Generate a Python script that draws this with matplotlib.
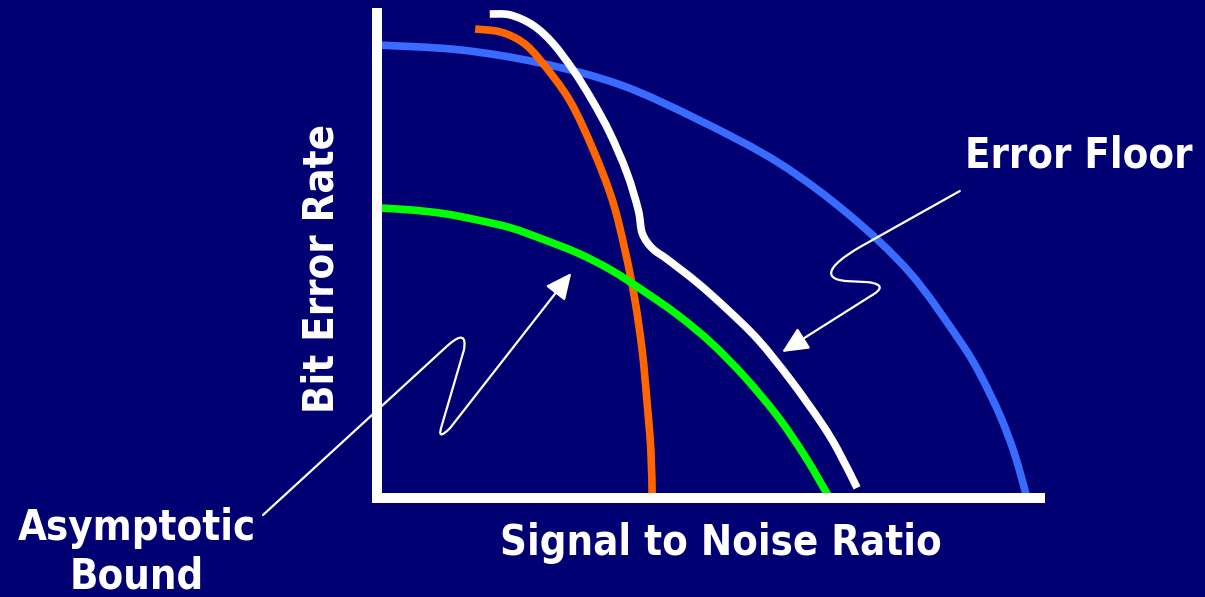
import matplotlib
matplotlib.use("Agg")
import matplotlib.pyplot as plt
from matplotlib.patches import FancyArrowPatch, PathPatch
from matplotlib.path import Path

# curve samples (SNR on x, BER on y, arbitrary units 0..10)
blue_x = [0.02, 1.25, 2.46, 3.67, 4.86, 6.06, 7.12, 8.04, 8.79, 9.10, 9.40, 9.62, 9.80]
blue_y = [9.34, 9.24, 8.97, 8.52, 7.79, 6.91, 5.84, 4.64, 3.24, 2.54, 1.69, 0.89, 0.02]

orange_x = [1.48, 1.86, 2.19, 2.46, 2.90, 3.26, 3.55, 3.74, 3.89, 4.00, 4.07, 4.13, 4.15]
orange_y = [9.67, 9.61, 9.40, 9.03, 8.21, 7.18, 6.14, 5.11, 4.08, 3.03, 2.02, 0.99, 0.02]

white_x = [1.70, 2.01, 2.35, 2.65, 2.96, 3.24, 3.51, 3.77, 3.94, 4.00, 4.15, 4.39, 4.84, 5.29, 5.75, 6.24, 6.70, 6.95, 7.24]
white_y = [9.98, 9.96, 9.75, 9.38, 8.82, 8.21, 7.53, 6.70, 5.94, 5.46, 5.15, 4.91, 4.43, 3.88, 3.26, 2.43, 1.55, 0.99, 0.21]

green_x = [0.02, 0.51, 1.03, 1.52, 2.02, 2.53, 3.03, 3.53, 4.04, 4.54, 5.04, 5.55, 6.05, 6.46, 6.80]
green_y = [5.98, 5.94, 5.86, 5.73, 5.57, 5.32, 5.05, 4.70, 4.25, 3.77, 3.20, 2.49, 1.67, 0.85, 0.06]

# squiggly pointers for the two callouts: straight runs joined by tight bends
M, L, Q, C = Path.MOVETO, Path.LINETO, Path.CURVE3, Path.CURVE4
floor_verts = [(8.79, 6.33), (7.29, 5.18), (6.76, 4.76), (6.71, 4.49), (7.13, 4.47),
               (7.41, 4.45), (7.74, 4.39), (7.44, 4.16), (6.11, 3.01)]
floor_codes = [M, L, C, C, C, L, Q, Q, L]
bound_verts = [(-1.72, -0.35), (1.07, 3.15), (1.37, 3.51), (1.31, 3.05), (0.98, 1.51),
               (0.89, 1.15), (1.10, 1.44), (2.93, 4.64)]
bound_codes = [M, L, Q, Q, L, Q, Q, L]

BG = '#000073'


def smooth_path(pts):
    """Catmull-Rom through the points, written as cubic Bezier segments."""
    verts = [pts[0]]
    codes = [Path.MOVETO]
    n = len(pts)
    for i in range(n - 1):
        p0 = pts[max(i - 1, 0)]
        p1 = pts[i]
        p2 = pts[i + 1]
        p3 = pts[min(i + 2, n - 1)]
        c1 = (p1[0] + (p2[0] - p0[0]) / 6, p1[1] + (p2[1] - p0[1]) / 6)
        c2 = (p2[0] - (p3[0] - p1[0]) / 6, p2[1] - (p3[1] - p1[1]) / 6)
        verts += [c1, c2, p2]
        codes += [Path.CURVE4] * 3
    return Path(verts, codes)


fig = plt.figure(figsize=(12.05, 5.97), dpi=100, facecolor=BG)
ax = fig.add_axes([0.3129, 0.1658, 0.5502, 0.8124])
ax.set_facecolor('none')
ax.set_xlim(0, 10)
ax.set_ylim(0, 10)

for side in ['top', 'right']:
    ax.spines[side].set_visible(False)
for side in ['left', 'bottom']:
    ax.spines[side].set_color('white')
    ax.spines[side].set_linewidth(7.2)
ax.set_xticks([])
ax.set_yticks([])

curves = [(blue_x, blue_y, '#3a6bff'), (orange_x, orange_y, '#ff6600'),
          (white_x, white_y, 'white'), (green_x, green_y, '#00ff00')]
for xs, ys, col in curves:
    ax.add_patch(PathPatch(smooth_path(list(zip(xs, ys))), facecolor='none', edgecolor=col,
                           linewidth=5.5, capstyle='butt', joinstyle='round', clip_on=False))

for verts, codes in ((floor_verts, floor_codes), (bound_verts, bound_codes)):
    arr = FancyArrowPatch(path=Path(verts, codes), arrowstyle='-|>,head_length=1.6,head_width=0.75',
                          mutation_scale=10, color='white', linewidth=1.6,
                          transform=ax.transData, clip_on=False)
    ax.add_patch(arr)

font = dict(family='DejaVu Sans', weight='bold', stretch='condensed', color='white', fontsize=30)
fig.text(0.267, 0.551, 'Bit Error Rate', rotation=90, ha='center', va='center', **font)
fig.text(0.598, 0.0905, 'Signal to Noise Ratio', ha='center', va='center', **font)
fig.text(0.8954, 0.740, 'Error Floor', ha='center', va='center', **font)
fig.text(0.1137, 0.0754, 'Asymptotic\nBound', ha='center', va='center', linespacing=1.2, **font)

fig.savefig('out.png', dpi=100, facecolor=BG)
